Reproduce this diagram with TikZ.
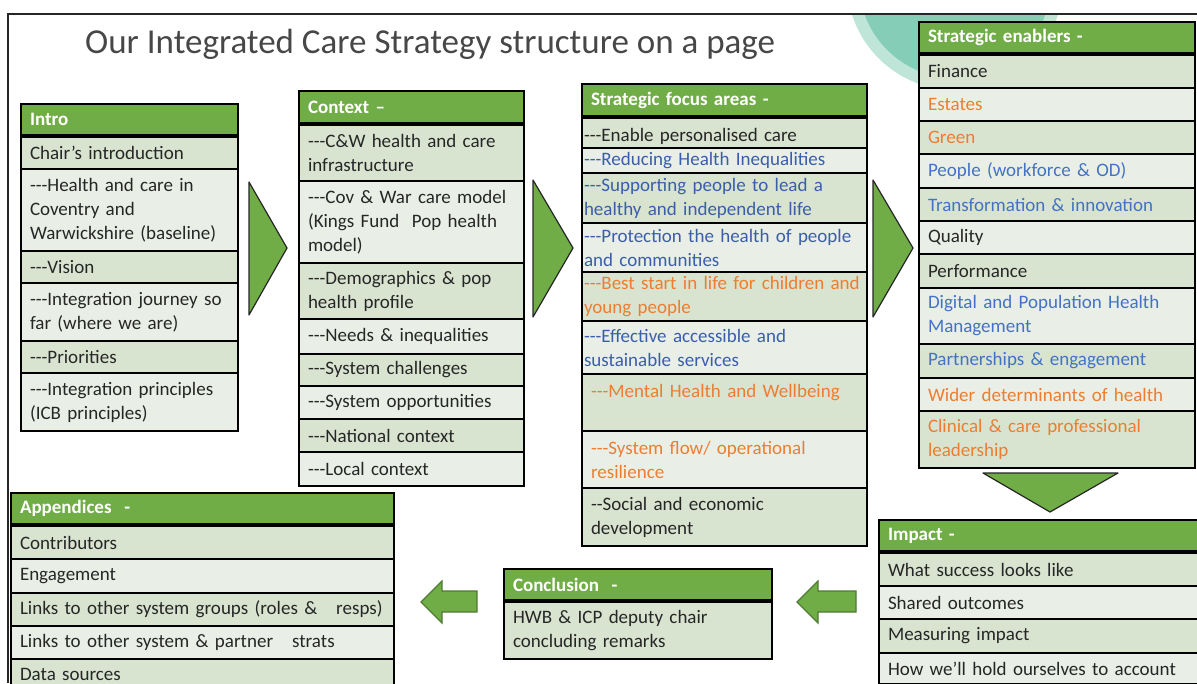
\documentclass[tikz,border=0pt]{standalone}
\usepackage{fontspec}
\setmainfont{Carlito}[Ligatures=TeXOff]
\usetikzlibrary{positioning}
\definecolor{Leaf}{HTML}{70AD47}
\definecolor{LeafDark}{HTML}{4E7A33}
\definecolor{RowDark}{HTML}{D8E4D0}
\definecolor{RowLight}{HTML}{E9EFE6}
\definecolor{Ink}{HTML}{262626}
\definecolor{Blue}{HTML}{4472C4}
\definecolor{DeepBlue}{HTML}{3B5EAB}
\definecolor{Orange}{HTML}{ED7D31}
\definecolor{Teal}{HTML}{86CDB7}
\definecolor{SoftTeal}{HTML}{BFE5D9}

\begin{document}
\begin{tikzpicture}[
  x=1pt,y=-1pt,
  cell/.style={draw=black,line width=2pt,anchor=north west,inner xsep=9pt,inner ysep=1pt,align=left,text=Ink,font=\fontsize{19}{24}\selectfont},
  head/.style={cell,fill=Leaf,text=white,font=\bfseries\fontsize{19}{22}\selectfont,minimum height=31pt},
  rowA/.style={cell,fill=RowDark},
  rowB/.style={cell,fill=RowLight},
  introcol/.style={minimum width=217pt,text width=199pt},
  ctxcol/.style={minimum width=225pt,text width=207pt},
  focuscol/.style={minimum width=285pt,text width=267pt},
  flush/.style={inner xsep=2pt,text width=281pt},
  enabcol/.style={minimum width=276pt,text width=258pt},
  impcol/.style={minimum width=340pt,text width=322pt},
  conccol/.style={minimum width=268pt,text width=250pt},
  appcol/.style={minimum width=383pt,text width=365pt},
  tri/.style={fill=Leaf,draw=Ink,line width=1.2pt,line join=round},
  back/.style={fill=Leaf,draw=LeafDark,line width=1.2pt,line join=miter}
]
\useasboundingbox (0,0) rectangle (1197,683);
\clip (0,0) rectangle (1197,683);

\begin{scope}
  \clip (8,14) rectangle (1197,683);
  \fill[SoftTeal] (955,-18) circle[radius=108pt];
  \fill[Teal] (955,-18) circle[radius=96pt];
\end{scope}
\draw[line width=1.5pt,Ink] (8,683) -- (8,14) -- (1197,14);

\node[anchor=base west,inner sep=0pt,text=Ink!85,font=\fontsize{35}{40}\selectfont] (title) at (85,53) {Our Integrated Care Strategy structure on a page};

% intro
\node[head,introcol] (intro) at (20,103) {Intro};
\node[rowA,introcol,minimum height=32pt] (chair) at (20,136) {Chair’s introduction};
\node[rowB,introcol,minimum height=82pt] (baseline) at (20,168) {---Health and care in\\Coventry and\\Warwickshire (baseline)};
\node[rowA,introcol,minimum height=32pt] (vision) at (20,250) {---Vision};
\node[rowB,introcol,minimum height=58pt] (journey) at (20,282) {---Integration journey so\\far (where we are)};
\node[rowA,introcol,minimum height=32pt] (priorities) at (20,340) {---Priorities};
\node[rowB,introcol,minimum height=58pt] (principles) at (20,372) {---Integration principles\\(ICB principles)};

% context
\node[head,ctxcol,minimum height=32pt] (ctx) at (298,90) {Context –};
\node[rowA,ctxcol,minimum height=56pt] (infra) at (298,124) {---C\&W health and care\\infrastructure};
\node[rowB,ctxcol,minimum height=82pt] (model) at (298,180) {---Cov \& War care model\\(Kings Fund\ \ Pop health\\model)};
\node[rowA,ctxcol,minimum height=56pt] (demog) at (298,262) {---Demographics \& pop\\health profile};
\node[rowB,ctxcol,minimum height=35pt] (needs) at (298,318) {---Needs \& inequalities};
\node[rowA,ctxcol,minimum height=32pt] (challenges) at (298,353) {---System challenges};
\node[rowB,ctxcol,minimum height=33pt] (opps) at (298,385) {---System opportunities};
\node[rowA,ctxcol,minimum height=33pt] (national) at (298,418) {---National context};
\node[rowB,ctxcol,minimum height=34pt] (local) at (298,451) {---Local context};

% strategic focus areas
\node[head,focuscol,minimum height=32pt] (focus) at (581,83) {Strategic focus areas -};
\node[rowA,focuscol,flush,minimum height=30pt,text height=21pt] (personal) at (581,117) {---Enable personalised care};
\node[rowB,focuscol,flush,minimum height=25pt,text=DeepBlue] (inequal) at (581,147) {---Reducing Health Inequalities};
\node[rowA,focuscol,flush,minimum height=50pt,text=DeepBlue] (independent) at (581,172) {---Supporting people to lead a\\healthy and independent life};
\node[rowB,focuscol,flush,minimum height=49pt,text=DeepBlue] (protection) at (581,222) {---Protection the health of people\\and communities};
\node[rowA,focuscol,flush,minimum height=49pt,text=Orange] (beststart) at (581,271) {---Best start in life for children and\\young people};
\node[rowB,focuscol,flush,minimum height=53pt,text=DeepBlue] (services) at (581,320) {---Effective accessible and\\sustainable services};
\node[rowA,focuscol,minimum height=57pt,text=Orange] (mental) at (581,373) {---Mental Health and Wellbeing\\\mbox{}};
\node[rowB,focuscol,minimum height=57pt,text=Orange] (flow) at (581,430) {---System flow/ operational\\resilience};
\node[rowA,focuscol,minimum height=58pt] (economic) at (581,487) {--Social and economic\\development};

% strategic enablers
\node[head,enabcol] (enablers) at (918,21) {Strategic enablers -};
\node[rowA,enabcol,minimum height=33pt] (finance) at (918,54) {Finance};
\node[rowB,enabcol,minimum height=33pt,text=Orange] (estates) at (918,87) {Estates};
\node[rowA,enabcol,minimum height=33pt,text=Orange] (green) at (918,120) {Green};
\node[rowB,enabcol,minimum height=34pt,text=Blue] (people) at (918,153) {People (workforce \& OD)};
\node[rowA,enabcol,minimum height=33pt,text=Blue] (transform) at (918,187) {Transformation \& innovation};
\node[rowB,enabcol,minimum height=33pt] (quality) at (918,220) {Quality};
\node[rowA,enabcol,minimum height=34pt] (performance) at (918,253) {Performance};
\node[rowB,enabcol,minimum height=56pt,text=Blue] (digital) at (918,287) {Digital and Population Health\\Management};
\node[rowA,enabcol,minimum height=34pt,text=Blue] (partners) at (918,343) {Partnerships \& engagement};
\node[rowB,enabcol,minimum height=33pt,text=Orange] (wider) at (918,377) {Wider determinants of health};
\node[rowA,enabcol,minimum height=57pt,text=Orange] (clinical) at (918,410) {Clinical \& care professional\\leadership};

% impact
\node[head,impcol] (impact) at (878,519) {Impact -};
\node[rowA,impcol,minimum height=33pt] (success) at (878,552) {What success looks like};
\node[rowB,impcol,minimum height=33pt] (outcomes) at (878,585) {Shared outcomes};
\node[rowA,impcol,minimum height=34pt] (measuring) at (878,618) {Measuring impact};
\node[rowB,impcol,minimum height=31pt] (account) at (878,652) {How we’ll hold ourselves to account};

% conclusion
\node[head,conccol] (conclusion) at (503,568) {Conclusion\ \ -};
\node[rowA,conccol,minimum height=57pt] (remarks) at (503,601) {HWB \& ICP deputy chair\\concluding remarks};

% appendices
\node[head,appcol] (appendices) at (10,492) {Appendices\ \ -};
\node[rowA,appcol,minimum height=33pt] (contrib) at (10,525) {Contributors};
\node[rowB,appcol,minimum height=34pt] (engage) at (10,558) {Engagement};
\node[rowA,appcol,minimum height=33pt] (groups) at (10,592) {Links to other system groups (roles \&\ \ \ resps)};
\node[rowB,appcol,minimum height=33pt] (strats) at (10,625) {Links to other system \& partner\ \ \ strats};
\node[rowA,appcol,minimum height=31pt] (sources) at (10,658) {Data sources};

% flow markers
\draw[tri] (249,182) -- (287,248) -- (249,315) -- cycle;
\draw[tri] (533,180) -- (573,248) -- (533,317) -- cycle;
\draw[tri] (873,180) -- (913,248) -- (873,317) -- cycle;
\draw[tri] (983,473) -- (1118,473) -- (1050,512) -- cycle;
\draw[back] (856,591) -- (818,591) -- (818,581) -- (797,602) -- (818,623) -- (818,612) -- (856,612) -- cycle;
\draw[back] (477,591) -- (442,591) -- (442,581) -- (421,602) -- (442,623) -- (442,612) -- (477,612) -- cycle;
\end{tikzpicture}
\end{document}
